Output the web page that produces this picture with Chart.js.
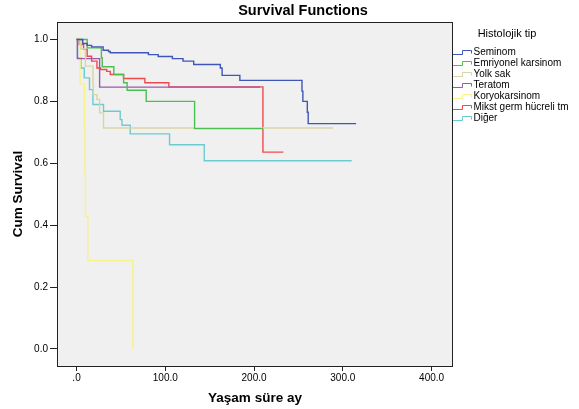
<!DOCTYPE html>
<html>
<head>
<meta charset="utf-8">
<script src="https://cdn.jsdelivr.net/npm/chart.js@4.4.1/dist/chart.umd.min.js"></script>
<style>
  body { margin: 0; background: #fff; }
  canvas { display: block; }
</style>
</head>
<body>
<canvas id="km" width="579" height="409"></canvas>
<script>
// Kaplan-Meier curves: time (ay) and cumulative survival
const groups = ['Seminom', 'Emriyonel karsinom', 'Yolk sak', 'Teratom', 'Koryokarsinom', 'Mikst germ hücreli tm', 'Diğer'];

const seminomT = [0, 7, 12, 17, 30, 36, 38, 81, 92, 108, 120, 132, 162, 164, 184, 254, 255, 260, 261, 315];
const seminomS = [1, 0.987, 0.981, 0.976, 0.965, 0.961, 0.957, 0.951, 0.945, 0.938, 0.930, 0.919, 0.908, 0.884, 0.868, 0.833, 0.800, 0.765, 0.728, 0.728];

const emriyonelT = [0, 12, 28, 29, 42, 53, 57, 78.5, 133, 210];
const emriyonelS = [1, 0.973, 0.941, 0.912, 0.887, 0.860, 0.836, 0.800, 0.712, 0.712];

const yolkT = [0, 5, 10, 18.5, 19, 23, 26, 30.4, 289];
const yolkS = [1, 0.97, 0.914, 0.85, 0.822, 0.806, 0.763, 0.714, 0.714];

const teratomT = [0, 1, 26, 207];
const teratomS = [1, 0.938, 0.846, 0.846];

const koryoT = [0, 4, 9, 9.5, 10, 12.8, 63.5];
const koryoS = [1, 0.857, 0.714, 0.571, 0.429, 0.286, 0];

const mikstT = [0, 3, 8, 12, 17, 23, 27, 34, 38, 53, 77, 104, 210, 233];
const mikstS = [1, 0.984, 0.968, 0.946, 0.930, 0.908, 0.903, 0.897, 0.887, 0.874, 0.860, 0.847, 0.636, 0.636];

const digerT = [0, 1, 5, 8.7, 14.6, 18.5, 30.4, 49.2, 51.2, 60.5, 104.8, 143.9, 310];
const digerS = [1, 0.941, 0.908, 0.876, 0.838, 0.790, 0.768, 0.741, 0.723, 0.695, 0.660, 0.608, 0.608];

const xTicks = [0, 100, 200, 300, 400];
const yTicks = [0, 0.2, 0.4, 0.6, 0.8, 1.0];

const colors = ['#3f56b9', '#4cbf50', '#d8d5a6', '#9b58a9', '#f6f28c', '#ef4a4c', '#6ccbd0'];

const series = [
    [seminomT, seminomS],
    [emriyonelT, emriyonelS],
    [yolkT, yolkS],
    [teratomT, teratomS],
    [koryoT, koryoS],
    [mikstT, mikstS],
    [digerT, digerS]
];

const toPoints = (t, s) => t.map((x, i) => ({ x: x, y: s[i] }));

const datasets = series.map((p, i) => ({
    label: groups[i],
    data: toPoints(p[0], p[1]),
    borderColor: colors[i],
    borderWidth: 1.4,
    pointRadius: 0,
    fill: false,
    stepped: 'before'
}));

const FONT = '"Liberation Sans", Arial, sans-serif';

const frame = {
    id: 'frame',
    beforeDatasetsDraw(chart) {
        const a = chart.chartArea;
        const ctx = chart.ctx;
        ctx.save();
        ctx.fillStyle = '#f0f0f0';
        ctx.fillRect(a.left, a.top, a.right - a.left, a.bottom - a.top);
        ctx.restore();
    },
    afterDraw(chart) {
        const a = chart.chartArea;
        const ctx = chart.ctx;
        ctx.save();
        ctx.strokeStyle = '#222';
        ctx.lineWidth = 1;
        ctx.strokeRect(Math.round(a.left) + 0.5, Math.round(a.top) + 0.5,
            Math.round(a.right - a.left), Math.round(a.bottom - a.top));

        ctx.fillStyle = '#000';
        ctx.textAlign = 'center';
        ctx.textBaseline = 'middle';
        ctx.font = 'bold 14.5px ' + FONT;
        ctx.fillText('Survival Functions', 303, 11);

        ctx.font = 'bold 13.5px ' + FONT;
        ctx.fillText('Yaşam süre ay', 255, 398);
        ctx.save();
        ctx.translate(18, 194);
        ctx.rotate(-Math.PI / 2);
        ctx.fillText('Cum Survival', 0, 0);
        ctx.restore();

        // legend
        ctx.font = '11px ' + FONT;
        ctx.fillText('Histolojik tip', 507, 34);
        ctx.textAlign = 'left';
        ctx.font = '10px ' + FONT;
        groups.forEach((g, i) => {
            const y = Math.round(51.5 + i * 11.1) + 0.5;
            ctx.strokeStyle = colors[i];
            ctx.lineWidth = 1;
            ctx.beginPath();
            ctx.moveTo(453, y + 2);
            ctx.lineTo(462.5, y + 2);
            ctx.lineTo(462.5, y - 2);
            ctx.lineTo(471.5, y - 2);
            ctx.lineTo(471.5, y + 1);
            ctx.stroke();
            ctx.fillStyle = '#000';
            ctx.fillText(g, 473.5, y);
        });
        ctx.restore();
    }
};

const config = {
    type: 'line',
    data: { datasets: datasets },
    options: {
        responsive: false,
        animation: false,
        layout: { padding: { left: 0, right: 127, top: 22, bottom: 0 } },
        plugins: {
            legend: { display: false },
            title: { display: false },
            tooltip: { enabled: false }
        },
        scales: {
            x: {
                type: 'linear',
                min: -22,
                max: 423,
                afterBuildTicks: (s) => { s.ticks = xTicks.map(v => ({ value: v })); },
                afterFit: (s) => { s.height = 43; },
                grid: { drawOnChartArea: false, drawTicks: true, tickLength: 5, color: '#222' },
                border: { display: false },
                ticks: {
                    padding: 1,
                    color: '#000',
                    font: { family: FONT, size: 10 },
                    maxRotation: 0,
                    callback: (v) => v === 0 ? '.0' : v.toFixed(1)
                }
            },
            y: {
                type: 'linear',
                min: -0.055,
                max: 1.0565,
                afterBuildTicks: (s) => { s.ticks = yTicks.map(v => ({ value: v })); },
                afterFit: (s) => { s.width = 57; },
                grid: { drawOnChartArea: false, drawTicks: true, tickLength: 7, color: '#222' },
                border: { display: false },
                ticks: {
                    padding: 2,
                    color: '#000',
                    font: { family: FONT, size: 10 },
                    callback: (v) => v.toFixed(1)
                }
            }
        }
    },
    plugins: [frame]
};

window.onload = function () {
    const ctx = document.querySelector('#km').getContext('2d');
    const kmChart = new Chart(ctx, config);
};
</script>
</body>
</html>
